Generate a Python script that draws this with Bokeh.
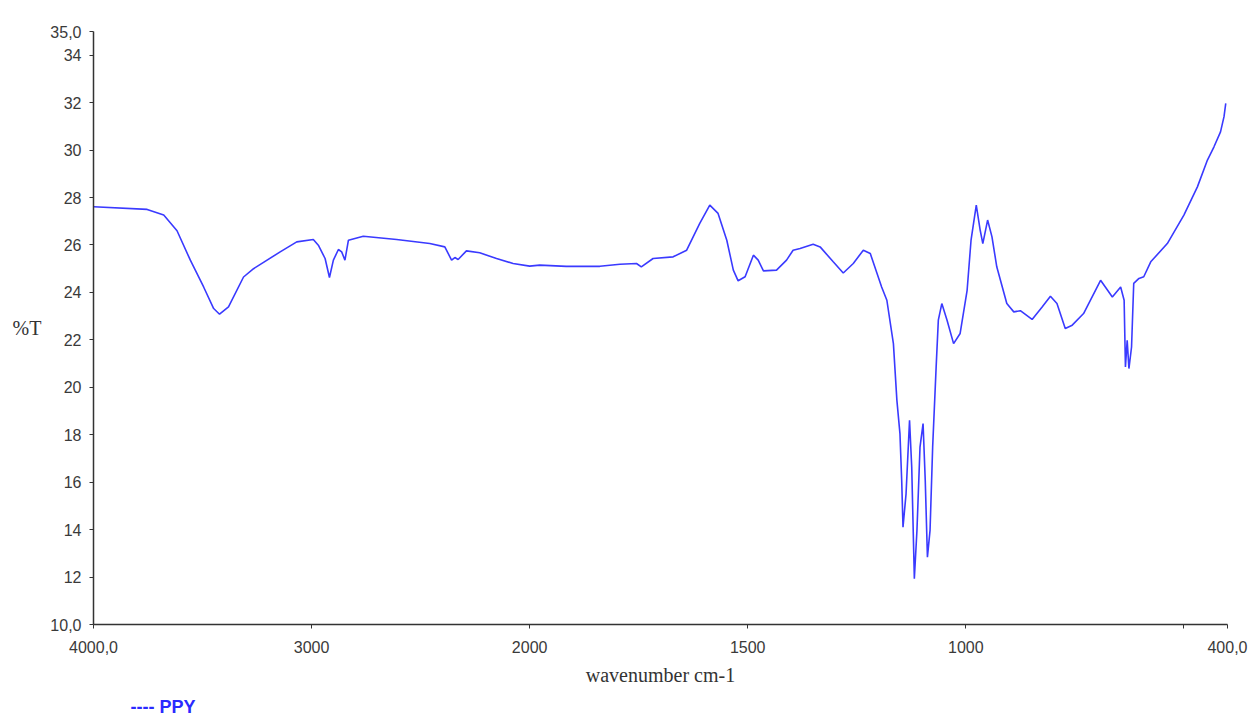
from bokeh.plotting import figure
from bokeh.models import Range1d, FixedTicker, Title
from bokeh.embed import file_html
from bokeh.resources import INLINE

# ---- data ----
wavenumber = [3999, 3754, 3678, 3617, 3556, 3495, 3449, 3422, 3381, 3312, 3266, 3144, 3068,
              2992, 2969, 2938, 2918, 2900, 2877, 2862, 2847, 2831, 2763, 2610, 2458, 2389,
              2358, 2343, 2328, 2290, 2229, 2152, 2076, 2000, 1977, 1916, 1839, 1793, 1755,
              1744, 1717, 1671, 1640, 1610, 1587, 1568, 1548, 1533, 1522, 1506, 1487, 1476,
              1464, 1434, 1411, 1396, 1380, 1350, 1334, 1304, 1281, 1258, 1235, 1219, 1193,
              1181, 1166, 1158, 1151, 1147, 1144, 1137, 1129, 1124, 1118, 1112, 1105, 1098,
              1093, 1088, 1082, 1076, 1068, 1063, 1055, 1043, 1028, 1013, 997, 988, 976, 967,
              961, 950, 940, 929, 906, 890, 875, 848, 825, 806, 791, 772, 756, 730, 691, 664,
              645, 637, 634, 630, 626, 620, 615, 603, 592, 576, 538, 500, 469, 446, 431, 416,
              408, 404]
transmittance = [27.61, 27.50, 27.26, 26.60, 25.36, 24.23, 23.32, 23.08, 23.39, 24.65, 25.00, 25.71, 26.13,
                 26.23, 25.99, 25.43, 24.63, 25.36, 25.81, 25.71, 25.36, 26.20, 26.37, 26.23, 26.06, 25.92,
                 25.36, 25.47, 25.39, 25.75, 25.67, 25.43, 25.22, 25.11, 25.15, 25.10, 25.10, 25.19, 25.22,
                 25.08, 25.43, 25.50, 25.78, 26.91, 27.68, 27.33, 26.20, 24.94, 24.49, 24.66, 25.57, 25.36,
                 24.91, 24.94, 25.36, 25.78, 25.85, 26.03, 25.92, 25.29, 24.82, 25.22, 25.78, 25.64, 24.23,
                 23.67, 21.84, 19.45, 18.05, 16.08, 14.10, 15.51, 18.61, 16.64, 11.93, 13.97, 17.48, 18.47,
                 16.08, 12.84, 13.97, 17.48, 20.86, 22.83, 23.53, 22.83, 21.84, 22.27, 24.09, 26.20, 27.68, 26.62,
                 26.06, 27.05, 26.34, 25.08, 23.53, 23.18, 23.23, 22.86, 23.39, 23.84, 23.53, 22.48, 22.62, 23.11, 24.51, 23.81,
                 24.23, 23.67, 20.86, 21.98, 20.79, 21.70, 24.38, 24.59, 24.66, 25.29, 26.06, 27.26, 28.45, 29.58, 30.14, 30.77,
                 31.41, 31.97]

x_ticks = [4000, 3000, 2000, 1500, 1000, 500, 400]
x_tick_labels = ["4000,0", "3000", "2000", "1500", "1000", "", "400,0"]
y_ticks = [10, 12, 14, 16, 18, 20, 22, 24, 26, 28, 30, 32, 34, 35]
y_tick_labels = ["10,0", "12", "14", "16", "18", "20", "22", "24", "26", "28", "30", "32", "34", "35,0"]
series_name = "PPY"


# The instrument's axis: 4000-2000 cm-1 compressed, 2000-400 cm-1 expanded x2
def to_axis(w):
    return 4000 - w if w >= 2000 else 2000 + 2 * (2000 - w)


xs = [to_axis(w) for w in wavenumber]

p = figure(width=1250, height=724, output_backend="svg", toolbar_location=None,
           x_range=Range1d(to_axis(4000), to_axis(400)), y_range=Range1d(10, 35),
           min_border_left=93, min_border_right=23, min_border_top=31, min_border_bottom=100)

p.line(xs, transmittance, line_color="#3a3aff", line_width=1.6)

p.outline_line_color = None
p.xgrid.visible = False
p.ygrid.visible = False
p.background_fill_color = "white"

xa = p.xaxis[0]
xa.ticker = FixedTicker(ticks=[to_axis(w) for w in x_ticks])
xa.major_label_overrides = {to_axis(w): lab for w, lab in zip(x_ticks, x_tick_labels)}
xa.minor_tick_line_color = None
xa.major_tick_out = 4
xa.major_tick_in = 0
xa.major_label_standoff = 12
xa.axis_label = "wavenumber cm-1"
xa.axis_label_text_font = "Liberation Serif"
xa.axis_label_text_font_style = "normal"
xa.axis_label_text_font_size = "20px"
xa.axis_label_text_color = "#333333"
xa.axis_label_standoff = 8

ya = p.yaxis[0]
ya.ticker = FixedTicker(ticks=y_ticks)
ya.major_label_overrides = {t: lab for t, lab in zip(y_ticks, y_tick_labels)}
ya.minor_tick_line_color = None
ya.major_tick_out = 4
ya.major_tick_in = 0
ya.major_label_standoff = 8
ya.axis_label = "%T"
ya.axis_label_orientation = "horizontal"
ya.axis_label_text_font = "Liberation Serif"
ya.axis_label_text_font_style = "normal"
ya.axis_label_text_font_size = "20px"
ya.axis_label_text_color = "#333333"
ya.axis_label_standoff = 6

for ax in (xa, ya):
    ax.axis_line_color = "#333333"
    ax.axis_line_width = 1.5
    ax.major_tick_line_color = "#333333"
    ax.major_label_text_font = "Liberation Sans"
    ax.major_label_text_font_size = "16px"
    ax.major_label_text_color = "#3a3a3a"

# legend text below the chart
legend_title = Title(text="---- " + series_name, align="left", offset=37, standoff=12,
                     text_color="#2a2aff", text_font="Liberation Sans",
                     text_font_style="bold", text_font_size="18px")
p.add_layout(legend_title, "below")

open("out.html", "w").write(file_html(p, INLINE))
